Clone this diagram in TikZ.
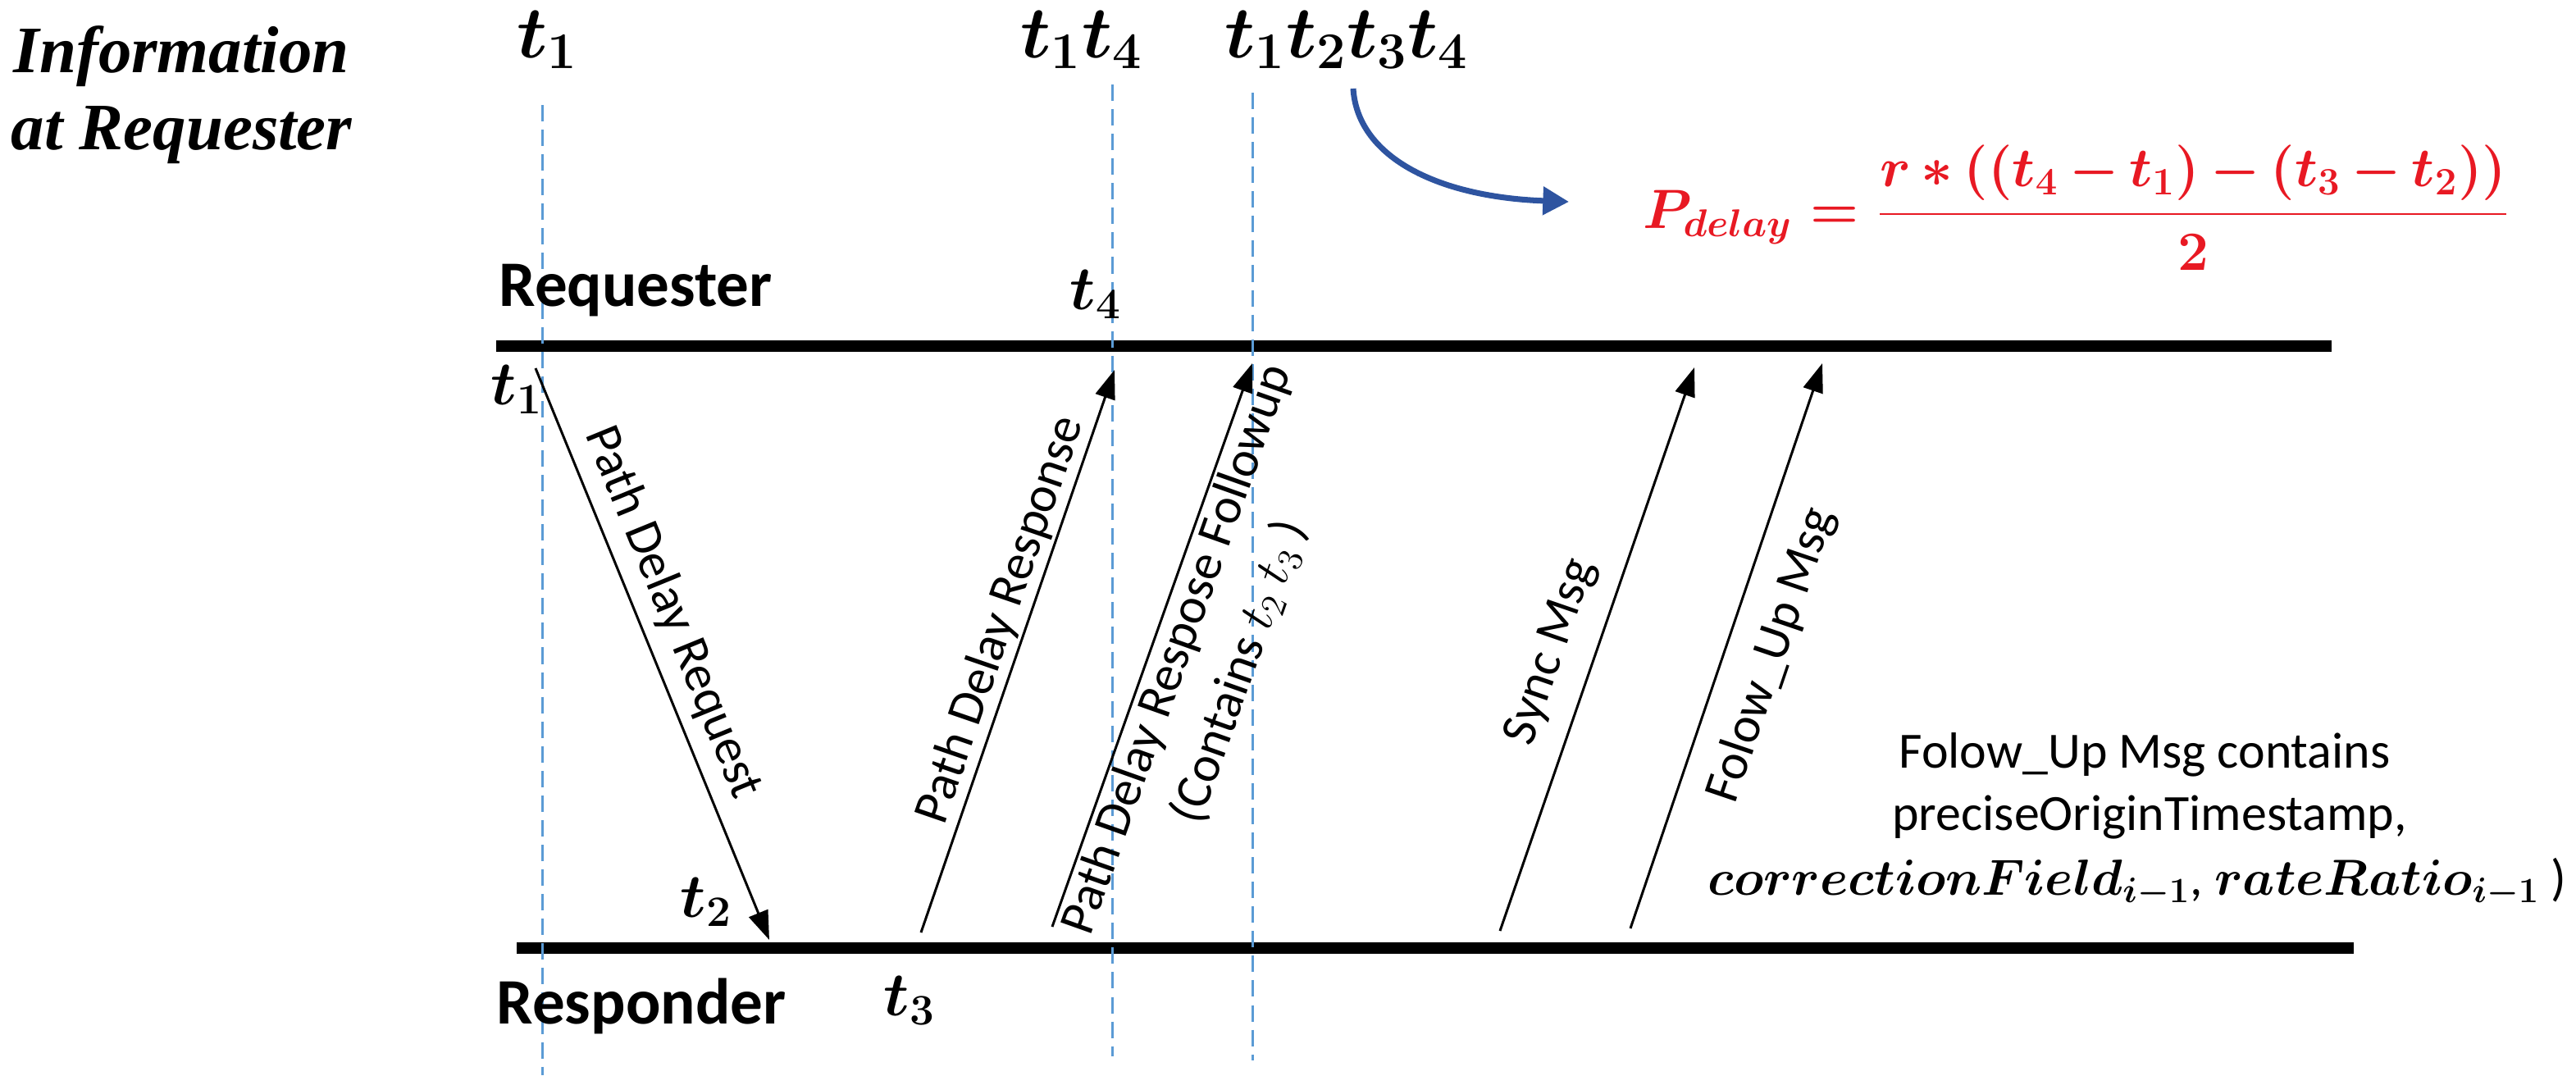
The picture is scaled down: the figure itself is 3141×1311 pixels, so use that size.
\RequirePackage{fix-cm}
\documentclass[tikz,border=0pt]{standalone}
\usepackage{fontspec}
\setmainfont{Carlito}
\newfontfamily\infofont{Liberation Serif}
\usetikzlibrary{arrows.meta}
\definecolor{dashblue}{RGB}{91,155,213}
\definecolor{curveblue}{RGB}{46,84,160}
\definecolor{formred}{RGB}{232,25,35}
\begin{document}
\begin{tikzpicture}[x=0.01cm,y=-0.01cm,
  timeline/.style={line width=4pt},
  guide/.style={draw=dashblue, line width=0.85pt, dash pattern=on 5.7pt off 2.85pt},
  msg/.style={line width=0.85pt, -{Triangle[length=10pt,width=7pt]}},
  lbl/.style={font=\fontsize{17.6}{21}\selectfont, inner sep=1pt},
  tlab/.style={font=\fontsize{21.5}{26}\selectfont\boldmath, inner sep=0pt, anchor=base west},
  toplab/.style={font=\fontsize{25.5}{30}\selectfont\boldmath, inner sep=0pt, anchor=base west},
  sidelab/.style={font=\fontsize{22.5}{27}\selectfont\bfseries, inner sep=0pt, anchor=base west},
  infolab/.style={font=\infofont\fontsize{23}{27}\selectfont\bfseries\itshape, inner sep=0pt, anchor=base west},
  notelab/.style={font=\fontsize{17.6}{21}\selectfont, inner sep=0pt, anchor=base}
]
\useasboundingbox (0,0) rectangle (3141,1311);

% timelines
\coordinate (reqL) at (605,422);
\coordinate (reqR) at (2843,422);
\coordinate (resL) at (630,1156);
\coordinate (resR) at (2870,1156);
\draw[timeline] (reqL) -- (reqR);
\draw[timeline] (resL) -- (resR);

% guide lines
\coordinate (g1a) at (661,128);  \coordinate (g1b) at (661,1311);
\coordinate (g2a) at (1356,103); \coordinate (g2b) at (1356,1288);
\coordinate (g3a) at (1527,113); \coordinate (g3b) at (1527,1293);
\draw[guide] (g1a) -- (g1b);
\draw[guide] (g2a) -- (g2b);
\draw[guide] (g3a) -- (g3b);

% labels
\node[infolab] (info1) at (16,88) {Information};
\node[infolab] (info2) at (13,182) {at Requester};
\node[sidelab] (requester) at (608,373) {Requester};
\node[sidelab] (responder) at (605,1248) {Responder};

\node[toplab] (top1) at (630,70) {$t_1$};
\node[toplab] (top14) at (1244,70) {$t_1t_4$};
\node[toplab] (top1234) at (1493,70) {$t_1t_2t_3t_4$};

\node[tlab] (lt1) at (598,493) {$t_1$};
\node[tlab] (lt4) at (1304,377) {$t_4$};
\node[tlab] (lt2) at (829,1118) {$t_2$};
\node[tlab] (lt3) at (1077,1238) {$t_3$};

% message arrows
\coordinate (a1s) at (653,449);  \coordinate (a1e) at (938,1146);
\coordinate (a2s) at (1123,1137); \coordinate (a2e) at (1359,451);
\coordinate (a3s) at (1283,1130); \coordinate (a3e) at (1527,443);
\coordinate (a4s) at (1829,1135); \coordinate (a4e) at (2066,448);
\coordinate (a5s) at (1988,1132); \coordinate (a5e) at (2222,443);

\draw[msg] (a1s) -- node[lbl, sloped, above=3pt, pos=.45] (lreq) {Path Delay Request} (a1e);
\draw[msg] (a2s) -- node[lbl, sloped, above=0pt, pos=.54] (lresp) {Path Delay Response} (a2e);
\draw[msg] (a3s) -- node[lbl, sloped, below=0pt, pos=.507, align=center] (lfol) {Path Delay Respose Followup\\[2pt](Contains $t_2$ $t_3$ )} (a3e);
\draw[msg] (a4s) -- node[lbl, sloped, above=6pt, pos=.47] (lsync) {Sync Msg} (a4e);
\draw[msg] (a5s) -- node[lbl, sloped, below=7pt, pos=.51] (lfup) {Folow\_Up Msg} (a5e);

% note
\node[notelab] (note1) at (2615,936) {Folow\_Up Msg contains};
\node[notelab] (note2) at (2621,1012) {preciseOriginTimestamp,};
\node[notelab, font=\fontsize{17.6}{21}\selectfont\boldmath] (note3) at (2606,1091) {$correctionField_{i-1}$, $rateRatio_{i-1}$ )};

% formula and curved arrow
\node[anchor=base west, inner sep=0pt, text=formred, font=\fontsize{19.2}{23}\selectfont\boldmath] (pdelay) at (2003,278)
  {\medmuskip=3mu $P_{delay} = \displaystyle\frac{r*((t_4-t_1)-(t_3-t_2))}{2}$};
\coordinate (cs) at (1650,108);
\coordinate (ce) at (1913,246);
\draw[curveblue, line width=2pt, -{Triangle[length=9pt,width=9.5pt]}] (cs) .. controls (1655,190) and (1750,240) .. (ce);
\end{tikzpicture}
\end{document}
